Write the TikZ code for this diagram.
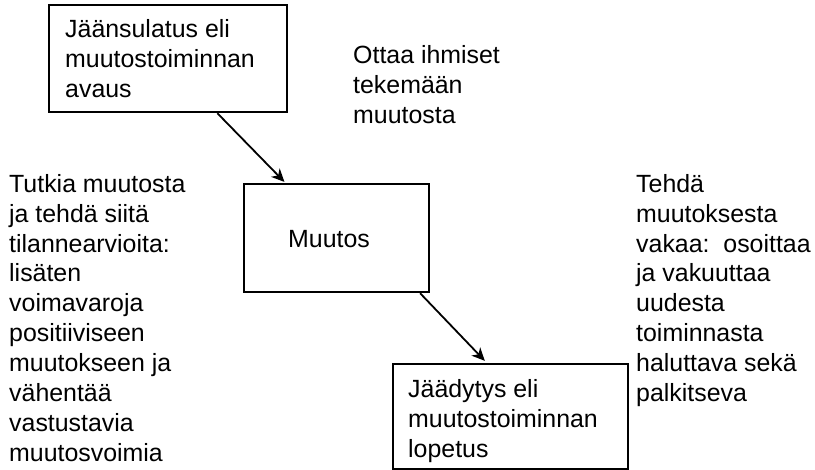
\documentclass[tikz,border=0pt]{standalone}
\usepackage{fontspec}
\setmainfont{Liberation Sans}
\usetikzlibrary{arrows.meta,calc}
\frenchspacing
\tikzset{
  box/.style={draw=black, line width=2.2bp, rectangle, inner sep=0pt, anchor=north west},
  txt/.style={inner sep=0pt, anchor=north west, align=left, font=\fontsize{25}{30}\selectfont},
  txtb/.style={inner sep=0pt, anchor=base west, font=\fontsize{25}{30}\selectfont},
  conn/.style={draw=black, line width=1.8bp, -{Stealth[length=13bp, width=12bp, inset=4bp]}}
}
\begin{document}
\begin{tikzpicture}[x=1bp, y=-1bp]
\useasboundingbox (0,0) rectangle (815,470);
% boxes
\node[box, minimum width=238bp, minimum height=107bp] (b1) at (48,4) {};
\node[box, minimum width=185bp, minimum height=108bp] (b2) at (243,183) {};
\node[box, minimum width=235bp, minimum height=105bp] (b3) at (392,363) {};
% box texts
\node[txt] (t1) at (65,19) {Jäänsulatus eli\\muutostoiminnan\\avaus};
\node[txtb] (t2) at (288,248) {Muutos};
\node[txt] (t3) at (408,379) {Jäädytys eli\\muutostoiminnan\\lopetus};
% free texts
\node[txt] (ottaa) at (353,45) {Ottaa ihmiset\\tekemään\\muutosta};
\node[txt] (lt) at (9,174) {Tutkia muutosta\\ja tehdä siitä\\tilannearvioita:\\lisäten\\voimavaroja\\positiiviseen\\muutokseen ja\\vähentää\\vastustavia\\muutosvoimia};
\node[txt] (rt) at (636,174) {Tehdä\\muutoksesta\\vakaa:~ osoittaa\\ja vakuuttaa\\uudesta\\toiminnasta\\haluttava sekä\\palkitseva};
% connectors
\draw[conn, shorten >=1.5bp] ($(b1.south west)!0.705!(b1.south east)$) -- ($(b2.north west)!0.227!(b2.north east)$);
\draw[conn, shorten >=3bp] ($(b2.south west)!0.946!(b2.south east)$) -- ($(b3.north west)!0.4!(b3.north east)$);
\end{tikzpicture}
\end{document}
